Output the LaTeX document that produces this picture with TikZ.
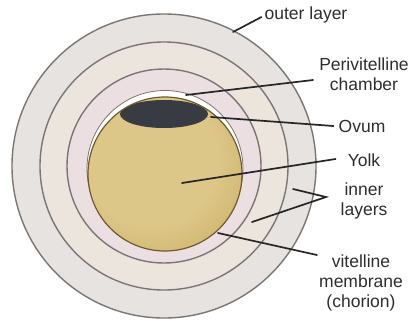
\documentclass[tikz,border=0pt]{standalone}
\usepackage{fontspec}
\setmainfont{Liberation Sans}
\usetikzlibrary{calc}

% colours of the egg
\definecolor{ringOuter}{HTML}{E7E3E0}
\definecolor{ringMiddle}{HTML}{EBE5DE}
\definecolor{ringInner}{HTML}{EBDFE2}
\definecolor{ringLine}{HTML}{7A7674}
\definecolor{yolkLight}{HTML}{DCC688}
\definecolor{yolkDark}{HTML}{C2A150}
\definecolor{yolkRim}{HTML}{6E5A2E}
\definecolor{ovumFill}{HTML}{383B42}
\definecolor{labelInk}{HTML}{2E2E2E}
\definecolor{leaderInk}{HTML}{262626}

\pgfdeclareradialshading{yolkshade}{\pgfpoint{-6bp}{6bp}}{%
  color(0bp)=(yolkLight); color(22bp)=(yolkLight);
  color(48bp)=(yolkDark); color(100bp)=(yolkDark)}

\tikzset{
  ring/.style={draw=ringLine, line width=1.4pt},
  lbl/.style={font=\fontsize{17.5}{20}\selectfont, text=labelInk,
              align=center, inner sep=2pt},
  leader/.style={draw=leaderInk, line width=1.7pt, line cap=round},
}

\begin{document}
\begin{tikzpicture}[x=1pt, y=-1pt]
  \useasboundingbox (0,0) rectangle (419,325);
  \fill[white] (0,0) rectangle (419,325);

  % concentric layers of the egg
  \filldraw[ring, fill=ringOuter]  (164,166) circle[radius=152];
  \filldraw[ring, fill=ringMiddle] (164,166) circle[radius=124];
  \filldraw[ring, fill=ringInner]  (164,166) circle[radius=97];

  % perivitelline chamber (white crescent above the yolk)
  \filldraw[draw=ringLine, line width=0.8pt, fill=white] (165,168.5) circle[radius=78];

  % yolk with the ovum on top
  \begin{scope}
    \clip (165,174) circle[radius=77];
    \shade[shading=yolkshade] (165,174) circle[radius=77];
    \fill[ovumFill] (164,114) ellipse[x radius=44, y radius=14];
  \end{scope}
  \draw[yolkRim, line width=1.2pt] (165,174) circle[radius=77];

  % labels
  \node[lbl] (outer) at (306,15)  {outer layer};
  \node[lbl] (peri)  at (364,74)  {Perivitelline\\chamber};
  \node[lbl] (ovum)  at (362,126) {Ovum};
  \node[lbl] (yolk)  at (364,160) {Yolk};
  \node[lbl] (inner) at (364,201) {inner\\layers};
  \node[lbl] (vit)   at (361,283) {vitelline\\membrane\\(chorion)};

  % points that the leaders point at
  \coordinate (pOuter) at (233,32);
  \coordinate (pPeri)  at (186,95);
  \coordinate (pOvum)  at (211,117);
  \coordinate (pYolk)  at (182,183);
  \coordinate (pIn1)   at (293,189);
  \coordinate (pIn2)   at (252,222);
  \coordinate (pVit)   at (218,233);
  \coordinate (fork)   at (326,197);

  % leaders
  \draw[leader] (pOuter) -- ([xshift=-1pt,yshift=-2pt]outer.west);
  \draw[leader] (pPeri) -- ([xshift=-4pt,yshift=-6pt]peri.west);
  \draw[leader] (pOvum) -- ([xshift=-3pt]ovum.west);
  \draw[leader] (pYolk) -- ([xshift=-10pt,yshift=1pt]yolk.west);
  \draw[leader] (pIn1) -- (fork) -- (pIn2);
  \draw[leader] (pVit) -- ([xshift=0pt,yshift=28pt]vit.west);
\end{tikzpicture}
\end{document}
